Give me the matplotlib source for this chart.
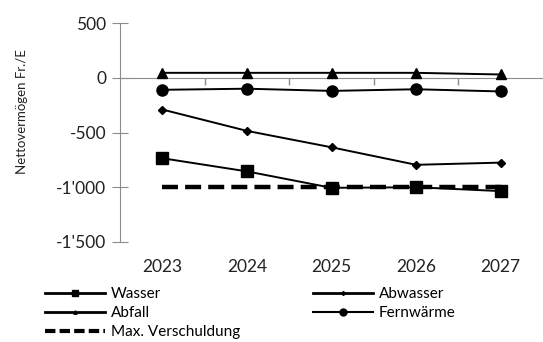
import matplotlib
matplotlib.use("Agg")
import matplotlib.pyplot as plt
from matplotlib.lines import Line2D

plt.rcParams['font.family'] = ['Lato', 'DejaVu Sans']

years = ["2023", "2024", "2025", "2026", "2027"]
wasser = [-735, -855, -1005, -1000, -1035]
abwasser = [-290, -485, -635, -795, -775]
abfall = [45, 45, 45, 45, 30]
fernwaerme = [-110, -100, -120, -105, -125]
max_verschuldung = [-1000, -1000, -1000, -1000, -1000]
y_ticks = [500, 0, -500, -1000, -1500]
y_tick_labels = ["500", "0", "-500", "-1'000", "-1'500"]

fig = plt.figure(figsize=(5.43, 3.42), dpi=100)
ax = fig.add_axes([0.221, 0.2924, 0.779, 0.6403])

x = list(range(len(years)))
grey = "#8c8c8c"

ax.plot(x, max_verschuldung, color="black", lw=3.2, dashes=(3.6, 1.6), zorder=2)
ax.plot(x, wasser, color="black", lw=1.4, marker="s", ms=8, zorder=3)
ax.plot(x, abwasser, color="black", lw=1.4, marker="D", ms=4.5, zorder=3)
ax.plot(x, abfall, color="black", lw=1.4, marker="^", ms=6.5, zorder=3)
ax.plot(x, fernwaerme, color="black", lw=1.4, marker="o", ms=8, zorder=3)

ax.set_xlim(-0.5, len(years) - 0.5)
ax.set_ylim(-1500, 500)

for s in ["top", "right"]:
    ax.spines[s].set_visible(False)
ax.spines["left"].set_color(grey)
ax.spines["bottom"].set_color(grey)
ax.spines["bottom"].set_position(("data", 0))

ax.set_yticks(y_ticks)
ax.set_yticklabels(y_tick_labels, fontsize=12.5, color="#222222")
ax.tick_params(axis="y", direction="inout", length=12, color=grey, pad=4)

ax.set_xticks([i + 0.5 for i in x[:-1]])
ax.set_xticklabels([])
ax.tick_params(axis="x", direction="out", length=5, width=1, color=grey)

sec = ax.secondary_xaxis("bottom")
sec.set_xticks(x)
sec.set_xticklabels(years, fontsize=12.5, color="#222222")
sec.tick_params(length=0, pad=12)
sec.spines["bottom"].set_visible(False)

fig.text(22 / 543, 1 - 112 / 342, "Nettovermögen Fr./E", rotation=90,
         ha="center", va="center", fontsize=9.5, color="#222222")

handles = [
    Line2D([], [], color="black", lw=2, marker="s", ms=5),
    Line2D([], [], color="black", lw=2, marker="D", ms=2),
    Line2D([], [], color="black", lw=2, marker="^", ms=2.5),
    Line2D([], [], color="black", lw=1.5, marker="o", ms=5),
    Line2D([], [], color="black", lw=3, dashes=(2.5, 1)),
]
labels = ["Wasser", "Abwasser", "Abfall", "Fernwärme", "Max. Verschuldung"]
order = [0, 2, 4, 1, 3]
fig.legend([handles[i] for i in order], [labels[i] for i in order],
           ncol=2, loc="upper left", bbox_to_anchor=(0.083, 0.16),
           frameon=False, fontsize=11, handlelength=3.9,
           handletextpad=0.4, columnspacing=4.8, labelspacing=0.32,
           borderaxespad=0, borderpad=0)

fig.savefig("out.png", dpi=100)
